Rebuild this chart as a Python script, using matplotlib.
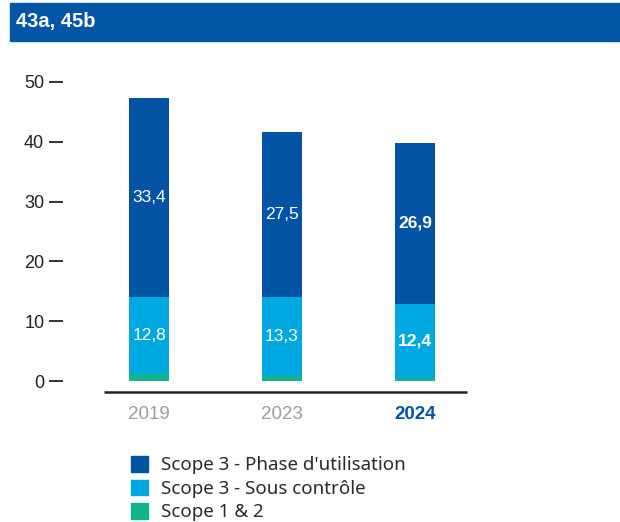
import numpy as np
import matplotlib
matplotlib.use("Agg")
import matplotlib.pyplot as plt
from matplotlib.patches import Patch, Rectangle

# data
years = ["2019", "2023", "2024"]
scope12 = [1.2, 0.8, 0.5]
scope3_ctrl = [12.8, 13.3, 12.4]
scope3_use = [33.4, 27.5, 26.9]
yticks = [0, 10, 20, 30, 40, 50]
series_labels = ["Scope 3 - Phase d'utilisation", "Scope 3 - Sous contrôle", "Scope 1 & 2"]

c_dark = "#0353A4"
c_light = "#00A8E2"
c_green = "#13B38B"
c_grey = "#9d9d9d"

W, H = 620, 522
fig = plt.figure(figsize=(W / 100, H / 100), dpi=100)

# header band
fig.patches.append(Rectangle((10 / W, 1 - 41 / H), 1 - 10 / W, 38 / H,
                             transform=fig.transFigure, color="#0355A6", zorder=0))
fig.text(16 / W, 1 - 22 / H, "43a, 45b", color="white", fontsize=14.5,
         fontweight="bold", family="Liberation Sans", va="center", ha="left")

# axes placement in pixels
x0, x1 = 63, 467
ymin, ymax = -3, 52
px_per_unit = 5.98
y_zero_px = 381
bot_px = y_zero_px + (-ymin) * px_per_unit
top_px = y_zero_px - ymax * px_per_unit
ax = fig.add_axes([x0 / W, 1 - bot_px / H, (x1 - x0) / W, (bot_px - top_px) / H])

x = np.arange(len(years))
spacing = 133
ax.set_xlim(-(149 - x0) / spacing, (x1 - 149) / spacing)
ax.set_ylim(ymin, ymax)

w = 40 / spacing
b1 = np.array(scope12)
b2 = b1 + np.array(scope3_ctrl)
ax.bar(x, scope12, w, color=c_green, zorder=2)
ax.bar(x, scope3_ctrl, w, bottom=b1, color=c_light, zorder=2)
ax.bar(x, scope3_use, w, bottom=b2, color=c_dark, zorder=2)

for i in range(len(years)):
    bold = (i == len(years) - 1)
    for val, base in ((scope3_ctrl[i], b1[i]), (scope3_use[i], b2[i])):
        ax.text(x[i], base + val / 2, f"{val:.1f}".replace(".", ","),
                ha="center", va="center", color="white", fontsize=12.5,
                family="Liberation Sans", fontweight="bold" if bold else "normal")

# baseline
ax.hlines(ymin + 1.1, x[0] - 45 / spacing, x[-1] + 52 / spacing,
          color="#222222", lw=1.8, clip_on=False)

for s in ax.spines.values():
    s.set_visible(False)
ax.set_yticks(yticks)
ax.set_yticklabels([str(t) for t in yticks], family="Liberation Sans",
                   fontsize=13, color="#222222")
ax.tick_params(axis="y", length=10, width=1.4, color="#333333", pad=3.5)
ax.set_xticks(x)
ax.set_xticklabels(years, family="Liberation Sans", fontsize=13.5)
ax.tick_params(axis="x", length=0, pad=5)
for i, lab in enumerate(ax.get_xticklabels()):
    if i == len(years) - 1:
        lab.set_color(c_dark)
        lab.set_fontweight("bold")
    else:
        lab.set_color(c_grey)

handles = [Patch(color=c_dark), Patch(color=c_light), Patch(color=c_green)]
fig.legend(handles, series_labels, loc="upper left",
           bbox_to_anchor=(118 / W, 1 - 443 / H), frameon=False,
           prop={"family": "Noto Sans", "size": 13.5},
           handlelength=0.9, handleheight=0.9, handletextpad=0.7,
           labelspacing=0.28, labelcolor="#2a2a2a", borderpad=0.2)

fig.savefig("out.png", dpi=100)
